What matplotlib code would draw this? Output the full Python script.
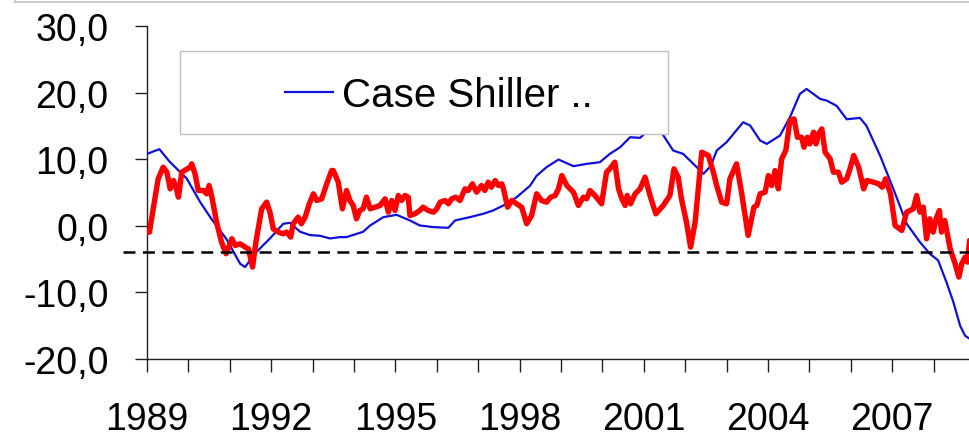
import matplotlib
matplotlib.use("Agg")
import matplotlib.pyplot as plt
from matplotlib.lines import Line2D
from matplotlib.patches import Rectangle

plt.rcParams['font.family'] = ['Liberation Sans', 'DejaVu Sans']
plt.rcParams['lines.scale_dashes'] = False

# ---- data (decimal years, % y/y) ----
cs_years = [1989.0, 1989.3, 1989.55, 1989.96, 1990.28, 1990.56, 1990.92, 1991.25, 1991.37,
            1991.6, 1991.97, 1992.29, 1992.45, 1992.7, 1992.94, 1993.18, 1993.42, 1993.66,
            1993.82, 1994.22, 1994.39, 1994.71, 1995.03, 1995.35, 1995.59, 1995.92, 1996.28,
            1996.44, 1996.8, 1997.12, 1997.36, 1997.69, 1997.93, 1998.25, 1998.41, 1998.65,
            1998.94, 1999.3, 1999.62, 1999.94, 2000.18, 2000.43, 2000.67, 2000.91, 2001.15,
            2001.35, 2001.47, 2001.71, 2001.95, 2002.28, 2002.44, 2002.62, 2002.76, 2003.0,
            2003.4, 2003.57, 2003.81, 2003.97, 2004.29, 2004.53, 2004.77, 2004.93, 2005.26,
            2005.42, 2005.66, 2005.9, 2006.22, 2006.38, 2006.71, 2007.03, 2007.35, 2007.67,
            2007.91, 2008.11, 2008.31, 2008.48, 2008.64, 2008.76, 2008.88]
cs_values = [10.8, 11.5, 9.6, 7.1, 3.6, 1.0, -2.0, -5.7, -6.2,
             -4.2, -1.9, 0.3, 0.45, -0.9, -1.4, -1.5, -1.9, -1.7,
             -1.7, -0.9, 0.05, 1.3, 1.65, 0.8, 0.05, -0.2, -0.3,
             0.8, 1.3, 1.8, 2.3, 3.3, 4.3, 6.0, 7.5, 8.8,
             9.95, 8.95, 9.3, 9.55, 10.8, 11.8, 13.3, 13.2, 14.6,
             14.3, 13.6, 11.3, 10.8, 8.8, 7.8, 9.0, 11.3, 12.55,
             15.55, 15.05, 12.8, 12.3, 13.55, 16.3, 19.8, 20.55, 19.05,
             18.8, 18.0, 16.0, 16.2, 15.0, 10.5, 5.5, 0.3, -2.45,
             -4.2, -5.2, -8.45, -11.5, -15.0, -16.5, -17.0]

red_years = [1989.0, 1989.06, 1989.15, 1989.27, 1989.39, 1989.48, 1989.56, 1989.64, 1989.7,
             1989.76, 1989.84, 1990.04, 1990.08, 1990.16, 1990.24, 1990.36, 1990.44, 1990.5,
             1990.56, 1990.68, 1990.8, 1990.91, 1990.96, 1991.05, 1991.13, 1991.25, 1991.37,
             1991.45, 1991.55, 1991.63, 1991.77, 1991.89, 1991.97, 1992.05, 1992.17, 1992.29,
             1992.37, 1992.47, 1992.53, 1992.65, 1992.73, 1992.82, 1992.92, 1993.02, 1993.1,
             1993.22, 1993.34, 1993.46, 1993.5, 1993.62, 1993.72, 1993.82, 1993.9, 1993.98,
             1994.06, 1994.14, 1994.22, 1994.3, 1994.39, 1994.51, 1994.63, 1994.75, 1994.83,
             1994.91, 1994.99, 1995.07, 1995.15, 1995.23, 1995.31, 1995.35, 1995.47, 1995.59,
             1995.67, 1995.79, 1995.92, 1996.0, 1996.08, 1996.2, 1996.28, 1996.36, 1996.46,
             1996.56, 1996.68, 1996.76, 1996.86, 1996.96, 1997.08, 1997.16, 1997.24, 1997.32,
             1997.41, 1997.49, 1997.57, 1997.61, 1997.71, 1997.81, 1997.93, 1998.05, 1998.17,
             1998.29, 1998.41, 1998.53, 1998.65, 1998.75, 1998.86, 1998.94, 1999.02, 1999.14,
             1999.3, 1999.42, 1999.54, 1999.62, 1999.7, 1999.82, 1999.98, 2000.1, 2000.18,
             2000.3, 2000.39, 2000.47, 2000.55, 2000.6, 2000.68, 2000.79, 2000.91, 2001.03,
             2001.15, 2001.29, 2001.47, 2001.63, 2001.73, 2001.83, 2001.91, 2002.03, 2002.13,
             2002.24, 2002.4, 2002.56, 2002.68, 2002.76, 2002.88, 2003.0, 2003.08, 2003.24,
             2003.36, 2003.52, 2003.66, 2003.73, 2003.81, 2003.93, 2004.01, 2004.09, 2004.17,
             2004.25, 2004.33, 2004.43, 2004.53, 2004.63, 2004.71, 2004.81, 2004.87, 2004.95,
             2005.01, 2005.1, 2005.16, 2005.22, 2005.3, 2005.38, 2005.5, 2005.58, 2005.7,
             2005.78, 2005.9, 2005.98, 2006.07, 2006.19, 2006.31, 2006.39, 2006.55, 2006.67,
             2006.76, 2006.84, 2006.96, 2007.07, 2007.23, 2007.35, 2007.51, 2007.59, 2007.67,
             2007.75, 2007.83, 2007.91, 2007.99, 2008.06, 2008.14, 2008.19, 2008.27, 2008.4,
             2008.52, 2008.61, 2008.68, 2008.76, 2008.82, 2008.87]
red_values = [-1.0, -0.95, 2.55, 7.05, 8.8, 8.05, 5.55, 6.8, 5.8,
              4.3, 8.05, 8.8, 9.3, 7.8, 5.3, 5.3, 4.8, 6.05,
              4.55, 0.55, -2.45, -4.2, -3.45, -1.95, -2.95, -2.7, -3.2,
              -3.45, -6.2, -2.45, 2.55, 3.55, 2.05, -0.45, -0.95, -1.2,
              -0.95, -1.7, 0.3, 1.3, 0.3, 1.3, 3.3, 4.8, 3.8,
              4.05, 6.3, 8.3, 8.3, 6.55, 2.55, 5.3, 3.8, 3.05,
              1.05, 2.3, 2.55, 4.3, 2.55, 2.8, 3.05, 4.05, 2.05,
              3.8, 2.3, 4.55, 3.8, 4.55, 4.3, 1.55, 1.8, 2.3,
              2.8, 2.3, 2.05, 2.55, 3.55, 3.8, 3.3, 4.05, 4.3,
              3.8, 5.55, 5.3, 6.3, 5.05, 6.05, 5.3, 6.55, 5.8,
              6.8, 6.05, 6.3, 5.55, 2.8, 3.8, 3.3, 2.8, 0.3,
              1.55, 4.8, 3.8, 3.55, 4.3, 4.55, 5.55, 7.55, 6.05,
              5.05, 3.05, 4.3, 4.05, 5.3, 4.55, 3.3, 8.05, 8.55,
              9.55, 5.55, 4.05, 3.05, 4.55, 3.3, 4.8, 5.55, 7.3,
              4.55, 1.8, 3.05, 4.55, 8.55, 7.3, 4.05, 0.55, -3.2,
              0.55, 11.05, 10.55, 8.05, 6.05, 3.55, 3.3, 7.05, 9.3,
              5.05, -1.45, 2.8, 3.05, 4.8, 5.05, 7.55, 6.05, 8.3,
              5.55, 10.05, 11.3, 15.8, 16.05, 13.3, 13.3, 11.8, 13.3,
              12.3, 14.05, 12.3, 13.8, 14.55, 11.05, 10.05, 8.05, 8.05,
              6.55, 7.05, 8.55, 10.55, 8.8, 5.55, 6.8, 6.55, 6.3,
              5.8, 7.05, 4.8, 0.05, -0.7, 2.05, 2.55, 4.55, 2.05,
              2.8, -1.95, 1.05, -0.95, 1.05, 2.3, -0.95, 0.8, -3.45,
              -5.7, -7.7, -5.7, -4.7, -5.45, -2.2]

threshold = -3.9
legend_label = "Case Shiller .."
year_ticks = list(range(1989, 2009))
year_labels = [str(y) if (y - 1989) % 3 == 0 else "" for y in year_ticks]
y_ticks = [-20, -10, 0, 10, 20, 30]

# ---- figure ----
W, H = 970, 439
fig = plt.figure(figsize=(W / 100, H / 100), dpi=100)
ax = fig.add_axes([147 / W, 1 - 360 / H, 1 - 147 / W, (360 - 27) / H])

blue_line, = ax.plot(cs_years, cs_values, color='#1010d8', lw=1.6, zorder=3,
                     label=legend_label, solid_joinstyle='round')
ax.plot(red_years, red_values, color='#ff0000', lw=3.9, zorder=4,
        solid_joinstyle='round', solid_capstyle='round')

ax.axhline(threshold, xmin=-0.029, xmax=1.0, color='black', lw=1.8,
           dashes=(8.6, 5.4), clip_on=False, zorder=5)

ax.set_xlim(1989, 1989 + (W - 147) / 41.4)
ax.set_ylim(-20, 30)

ax.set_xticks(year_ticks)
ax.set_xticklabels(year_labels)
ax.set_yticks(y_ticks)
ax.set_yticklabels([f"{v:.1f}".replace('.', ',') for v in y_ticks])

for s in ['top', 'right']:
    ax.spines[s].set_visible(False)
for s in ['left', 'bottom']:
    ax.spines[s].set_linewidth(1.0)
    ax.spines[s].set_color('#222222')

ax.tick_params(axis='y', direction='out', length=8.6, width=1.0, pad=19,
               labelsize=27, color='#222222')
ax.tick_params(axis='x', direction='out', length=9.5, width=1.0, pad=21,
               labelsize=27, color='#222222')

# legend box (frame drawn as patch, entries via legend)
frame = Rectangle((180 / W, 1 - 135 / H), (668 - 180) / W, (135 - 52) / H,
                  transform=fig.transFigure, facecolor='white',
                  edgecolor='#c0c0c0', lw=1.0, zorder=6)
fig.add_artist(frame)
leg = fig.legend(handles=[blue_line], loc='center left',
                 bbox_to_anchor=(285 / W, 1 - 96 / H), frameon=False,
                 fontsize=29, handlelength=1.2, handletextpad=0.22,
                 borderpad=0, borderaxespad=0)
leg.set_zorder(7)

# outer gray frame remnant at top
fig.add_artist(Line2D([15 / W, 1.0], [1 - 2.5 / H, 1 - 2.5 / H],
                      transform=fig.transFigure, color='#c0c0c0', lw=1.2))
fig.add_artist(Line2D([15 / W, 15 / W], [1 - 2.5 / H, 1.0],
                      transform=fig.transFigure, color='#c0c0c0', lw=1.2))

fig.savefig("out.png", dpi=100)
